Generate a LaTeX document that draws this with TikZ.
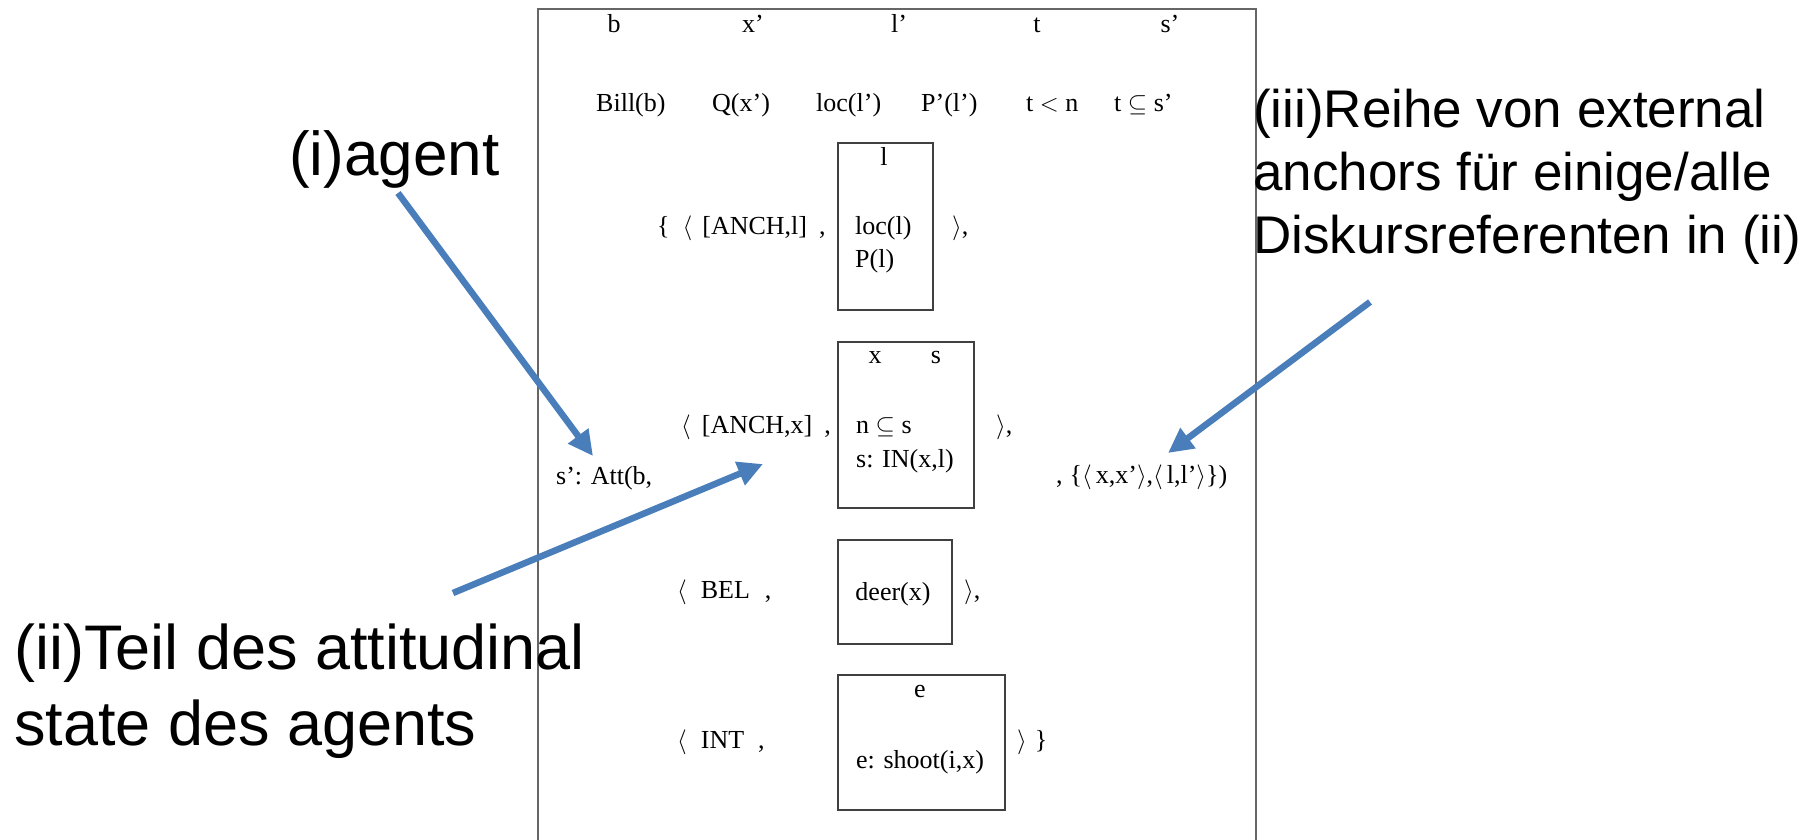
\documentclass[tikz,border=0pt]{standalone}
\usepackage{fontspec}
\setmainfont{Liberation Serif}
\newfontfamily\arialf{Liberation Sans}
\usetikzlibrary{arrows.meta}
\definecolor{arrowblue}{HTML}{4A7EBB}
\definecolor{framegray}{HTML}{666666}
\definecolor{boxgray}{HTML}{404040}
\begin{document}
\begin{tikzpicture}[x=1pt,y=-1pt,
  drs/.style={font=\fontsize{26}{31}\selectfont, inner sep=0pt, text=black},
  lab/.style={font=\arialf\fontsize{63}{76}\selectfont, inner sep=0pt, align=left, anchor=base west},
  labs/.style={font=\arialf\fontsize{53}{63}\selectfont, inner sep=0pt, align=left, anchor=base west},
  boxr/.style={draw=boxgray, line width=1.5pt, anchor=north west, inner sep=0pt},
  callout/.style={draw=arrowblue, line width=6.5pt, -{Triangle[length=25pt,width=24pt]}},
]
\useasboundingbox (0,0) rectangle (1813,839);
\draw[framegray, line width=1.5pt] (538,860) -- (538,9) -- (1256,9) -- (1256,860);

% universe row
\node[drs, anchor=base] (ub) at (614,32) {b};
\node[drs, anchor=base] (ux) at (753,32) {x'};
\node[drs, anchor=base] (ul) at (899,32) {l'};
\node[drs, anchor=base] (ut) at (1037,32) {t};
\node[drs, anchor=base] (us) at (1170,32) {s'};
% conditions row
\node[drs, anchor=base west] (c1) at (596,111) {Bill(b)};
\node[drs, anchor=base west] (c2) at (712,111) {Q(x')};
\node[drs, anchor=base west] (c3) at (816,111) {loc(l')};
\node[drs, anchor=base west] (c4) at (921,111) {P'(l')};
\node[drs, anchor=base west] (c5) at (1026,111) {t $<$ n};
\node[drs, anchor=base west] (c6) at (1114,111) {t $\subseteq$ s'};

% boxes
\node[boxr, minimum width=95pt, minimum height=167pt] (box1) at (837,142) {};
\node[boxr, minimum width=136pt, minimum height=166pt] (box2) at (837,341) {};
\node[boxr, minimum width=114pt, minimum height=104pt] (box3) at (837,539) {};
\node[boxr, minimum width=167pt, minimum height=135pt] (box4) at (837,674) {};

% box contents
\node[drs, anchor=base] (b1l) at (884,165) {l};
\node[drs, anchor=base west] (b1a) at (855,234) {loc(l)};
\node[drs, anchor=base west] (b1b) at (855,267) {P(l)};
\node[drs, anchor=base] (b2x) at (875,363) {x};
\node[drs, anchor=base] (b2s) at (936,363) {s};
\node[drs, anchor=base west] (b2a) at (856,433) {n $\subseteq$ s};
\node[drs, anchor=base west] (b2b) at (856,467) {s: IN(x,l)};
\node[drs, anchor=base] (b3a) at (893,600) {deer(x)};
\node[drs, anchor=base] (b4e) at (920,697) {e};
\node[drs, anchor=base] (b4a) at (920,768) {e: shoot(i,x)};

% surrounding text
\node[drs, anchor=base west] (l1) at (657,234) {\{\hspace{13pt}$\langle$\hspace{10pt}[ANCH,l]\hspace{12pt},};
\node[drs, anchor=base west] (r1) at (952,234) {$\rangle$,};
\node[drs, anchor=base west] (l2) at (681,433) {$\langle$\hspace{11pt}[ANCH,x]\hspace{12pt},};
\node[drs, anchor=base west] (r2) at (996,433) {$\rangle$,};
\node[drs, anchor=base west] (att) at (556,484) {s': Att(b,};
\node[drs, anchor=base west] (anch) at (1056,483) {,\hspace{7pt}\{$\langle$\hspace{4pt}x,x'$\rangle$,$\langle$\hspace{4pt}l,l'$\rangle$\})};
\node[drs, anchor=base west] (l3) at (677,598) {$\langle$\hspace{14pt}BEL\hspace{15pt},};
\node[drs, anchor=base west] (r3) at (964,598) {$\rangle$,};
\node[drs, anchor=base west] (l4) at (677,748) {$\langle$\hspace{14pt}INT\hspace{14pt},};
\node[drs, anchor=base west] (r4) at (1017,748) {$\rangle$\hspace{8pt}\}};

% annotation labels
\node[lab, font=\arialf\fontsize{62}{74}\selectfont] (agent) at (289,175) {(i)agent};
\node[lab] (teil) at (14,745) {(ii)Teil des attitudinal\\state des agents};
\node[labs] (reihe) at (1253,253) {(iii)Reihe von external\\anchors für einige/alle\\Diskursreferenten in (ii)};

% arrows
\coordinate (a1s) at (398,193);
\coordinate (a1e) at (593,456);
\coordinate (a2s) at (453,593);
\coordinate (a2e) at (763,464);
\coordinate (a3s) at (1370,302);
\coordinate (a3e) at (1168,453);
\draw[callout] (a1s) -- (a1e);
\draw[callout] (a2s) -- (a2e);
\draw[callout] (a3s) -- (a3e);
\end{tikzpicture}
\end{document}
